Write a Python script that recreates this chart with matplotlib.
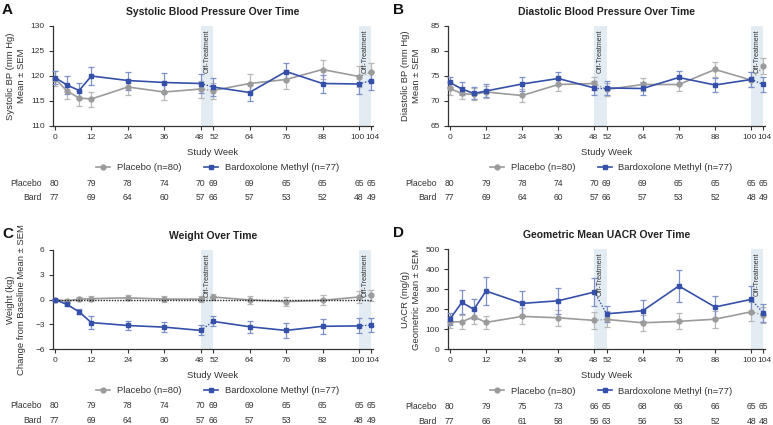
import matplotlib
matplotlib.use("Agg")
import matplotlib.pyplot as plt
from matplotlib.transforms import ScaledTranslation

plt.rcParams['font.family'] = ['Liberation Sans', 'DejaVu Sans']

weeks = [0, 4, 8, 12, 24, 36, 48, 52, 64, 76, 88, 100, 104]
tick_weeks = [0, 12, 24, 36, 48, 52, 64, 76, 88, 100, 104]

sbp_placebo = [119.5, 117.0, 115.6, 115.4, 117.8, 116.8, 117.4, 117.1, 118.5, 119.3, 121.3, 119.9, 120.8]
sbp_placebo_sem = [1.5, 1.5, 1.5, 1.5, 1.5, 1.6, 1.7, 1.6, 1.9, 1.9, 1.9, 2.1, 1.9]
sbp_bard = [119.7, 118.2, 117.1, 120.0, 119.1, 118.7, 118.5, 117.8, 116.7, 120.9, 118.5, 118.4, 119.1]
sbp_bard_sem = [1.3, 1.8, 1.6, 1.8, 1.8, 2.0, 1.9, 1.8, 1.6, 1.7, 1.8, 1.9, 1.8]

dbp_placebo = [72.5, 71.5, 71.3, 71.8, 71.1, 73.3, 73.5, 72.3, 73.3, 73.3, 76.3, 74.2, 76.9]
dbp_placebo_sem = [1.3, 1.2, 1.2, 1.2, 1.3, 1.3, 1.3, 1.3, 1.3, 1.3, 1.4, 1.5, 1.6]
dbp_bard = [73.7, 72.4, 71.5, 72.0, 73.4, 74.5, 72.6, 72.6, 72.5, 74.7, 73.2, 74.3, 73.3]
dbp_bard_sem = [1.0, 1.3, 1.2, 1.3, 1.4, 1.3, 1.4, 1.4, 1.3, 1.3, 1.4, 1.5, 1.5]

wt_placebo = [0.0, -0.2, 0.05, 0.1, 0.2, 0.05, 0.05, 0.3, -0.05, -0.25, -0.1, 0.3, 0.5]
wt_placebo_sem = [0.1, 0.2, 0.2, 0.3, 0.3, 0.4, 0.4, 0.4, 0.5, 0.5, 0.6, 0.7, 0.7]
wt_bard = [0.0, -0.6, -1.5, -2.8, -3.15, -3.35, -3.75, -2.65, -3.3, -3.75, -3.25, -3.2, -3.1]
wt_bard_sem = [0.1, 0.2, 0.3, 0.8, 0.5, 0.6, 0.6, 0.6, 0.7, 0.9, 0.9, 0.9, 0.8]

uacr_placebo = [136, 136, 161, 133, 163, 156, 143, 148, 131, 138, 149, 186, 170]
uacr_placebo_sem = [30, 35, 35, 33, 40, 40, 42, 40, 40, 40, 42, 48, 38]
uacr_bard = [149, 233, 198, 290, 228, 241, 285, 176, 191, 315, 210, 248, 181]
uacr_bard_sem = [30, 60, 50, 70, 60, 65, 72, 40, 53, 82, 53, 69, 45]

n_placebo_abc = [80, 79, 78, 74, 70, 69, 69, 65, 65, 65, 65]
n_bard_abc = [77, 69, 64, 60, 57, 66, 57, 53, 52, 48, 49]
n_placebo_d = [80, 79, 75, 73, 66, 65, 68, 66, 66, 65, 65]
n_bard_d = [77, 66, 61, 58, 56, 63, 56, 53, 52, 48, 48]

BLUE = '#3550a8'
BLUE_ERR = '#7e90cc'
GRAY = '#9b9b9b'
GRAY_ERR = '#b8b8b8'
BAND = '#e3ecf2'

W, H = 773, 425
fig = plt.figure(figsize=(W / 100, H / 100), dpi=100)


def axrect(l, r, t, b):
    return [l / W, 1 - b / H, (r - l) / W, (b - t) / H]


panels = [
    dict(rect=axrect(53, 373, 26, 126), letter='A', lx=2, title='Systolic Blood Pressure Over Time',
         ylabel=('Systolic BP (mm Hg)', 'Mean ± SEM'), ylim=(110, 130), yticks=[110, 115, 120, 125, 130],
         pl=sbp_placebo, pls=sbp_placebo_sem, bd=sbp_bard, bds=sbp_bard_sem,
         npl=n_placebo_abc, nbd=n_bard_abc, zero=False),
    dict(rect=axrect(448, 765, 26, 126), letter='B', lx=393, title='Diastolic Blood Pressure Over Time',
         ylabel=('Diastolic BP (mm Hg)', 'Mean ± SEM'), ylim=(65, 85), yticks=[65, 70, 75, 80, 85],
         pl=dbp_placebo, pls=dbp_placebo_sem, bd=dbp_bard, bds=dbp_bard_sem,
         npl=n_placebo_abc, nbd=n_bard_abc, zero=False),
    dict(rect=axrect(53, 373, 250, 349), letter='C', lx=2, title='Weight Over Time',
         ylabel=('Weight (kg)', 'Change from Baseline Mean ± SEM'), ylim=(-6, 6), yticks=[-6, -3, 0, 3, 6],
         pl=wt_placebo, pls=wt_placebo_sem, bd=wt_bard, bds=wt_bard_sem,
         npl=n_placebo_abc, nbd=n_bard_abc, zero=True),
    dict(rect=axrect(448, 765, 249, 349), letter='D', lx=393, title='Geometric Mean UACR Over Time',
         ylabel=('UACR (mg/g)', 'Geometric Mean ± SEM'), ylim=(0, 500), yticks=[0, 100, 200, 300, 400, 500],
         pl=uacr_placebo, pls=uacr_placebo_sem, bd=uacr_bard, bds=uacr_bard_sem,
         npl=n_placebo_d, nbd=n_bard_d, zero=False),
]

FS = 6.5
TFS = 6.0


def draw_series(ax, y, e, color, ecolor, marker, ms, z):
    ax.errorbar(weeks, y, yerr=e, fmt='none', ecolor=ecolor, elinewidth=0.9,
                capsize=2, capthick=0.9, zorder=z, clip_on=False)
    for a, b in ((0, 7), (7, 12)):
        ax.plot(weeks[a:b], y[a:b], color=color, lw=1.2, zorder=z + 1, clip_on=False)
    for a in (6, 11):
        ax.plot(weeks[a:a + 2], y[a:a + 2], color=color, lw=1.0, ls=(0, (1, 1.2)),
                zorder=z + 1, clip_on=False)
    ax.plot(weeks, y, ls='none', marker=marker, ms=ms, color=color, zorder=z + 2, clip_on=False)


for p in panels:
    ax = fig.add_axes(p['rect'])
    ax.set_xlim(-0.6, 104.6)
    ax.set_ylim(*p['ylim'])
    for s in ('top', 'right'):
        ax.spines[s].set_visible(False)
    for s in ('left', 'bottom'):
        ax.spines[s].set_color('#333333')
        ax.spines[s].set_linewidth(0.9)
    ax.set_xticks(tick_weeks)
    ax.set_yticks(p['yticks'])
    ax.set_yticklabels([str(v).replace('-', '\u2212') for v in p['yticks']])
    ax.tick_params(labelsize=TFS, length=3, width=0.8, color='#333333', labelcolor='#333333', pad=3)
    # nudge close-together tick labels apart slightly
    for lab, wk in zip(ax.get_xticklabels(), tick_weeks):
        dx = {100: -2.0, 104: 1.5, 48: -1.0, 52: 1.0}.get(wk, 0.0)
        if dx:
            lab.set_transform(lab.get_transform() + ScaledTranslation(dx / 100, 0, fig.dpi_scale_trans))

    for a, b in ((48, 52), (100, 104)):
        ax.axvspan(a, b, color=BAND, lw=0, zorder=0)
        ax.text((a + b) / 2, 0.97, 'Off-Treatment', rotation=90, ha='center', va='top',
                fontsize=5, color='#333333', transform=ax.get_xaxis_transform(), zorder=6)

    if p['zero']:
        ax.axhline(0, color='#222222', lw=1.0, ls=(0, (1, 1)), zorder=5)

    draw_series(ax, p['pl'], p['pls'], GRAY, GRAY_ERR, 'o', 3.5, 2)
    draw_series(ax, p['bd'], p['bds'], BLUE, BLUE_ERR, 's', 3.5, 3)

    bbox = ax.get_position()
    wpx = bbox.width * W
    l1, l2 = p['ylabel']
    ax.text(-42 / wpx, 0.5, l1, rotation=90, ha='center', va='center', transform=ax.transAxes,
            fontsize=FS + 0.3, color='#333333')
    ax.text(-31 / wpx, 0.5, l2, rotation=90, ha='center', va='center', transform=ax.transAxes,
            fontsize=FS + 0.3, color='#333333')

    cx = (bbox.x0 + bbox.x1) / 2
    fig.text(cx, bbox.y1 + 14 / H, p['title'], ha='center', va='center', fontsize=7.5,
             fontweight='bold', color='#222222')
    fig.text(p['lx'] / W, bbox.y1 + 16 / H, p['letter'], ha='left', va='center', fontsize=11,
             fontweight='bold', color='#111111')

    tr = ax.get_xaxis_transform()
    ax.text(52, -0.265, 'Study Week', transform=tr, ha='center', va='center', fontsize=FS + 0.3,
            color='#333333')

    h1, = ax.plot([], [], color=GRAY, marker='o', ms=3.5, lw=1.2)
    h2, = ax.plot([], [], color=BLUE, marker='s', ms=3.5, lw=1.2)
    ax.legend([h1, h2], ['Placebo (n=80)', 'Bardoxolone Methyl (n=77)'], ncol=2,
              loc='center', bbox_to_anchor=(0.515, -0.42), frameon=False, fontsize=FS + 0.3,
              handlelength=1.5, columnspacing=2.4, handletextpad=0.7, labelcolor='#333333')

    xlab = -4.3
    ax.text(xlab, -0.575, 'Placebo', transform=tr, ha='right', va='center', fontsize=FS - 0.3,
            color='#333333', clip_on=False)
    ax.text(xlab, -0.72, 'Bard', transform=tr, ha='right', va='center', fontsize=FS - 0.3,
            color='#333333', clip_on=False)
    for wk, a, b in zip(tick_weeks, p['npl'], p['nbd']):
        ax.text(wk, -0.575, str(a), transform=tr, ha='center', va='center', fontsize=FS - 0.3,
                color='#333333', clip_on=False)
        ax.text(wk, -0.72, str(b), transform=tr, ha='center', va='center', fontsize=FS - 0.3,
                color='#333333', clip_on=False)

fig.savefig('out.png', dpi=100)
